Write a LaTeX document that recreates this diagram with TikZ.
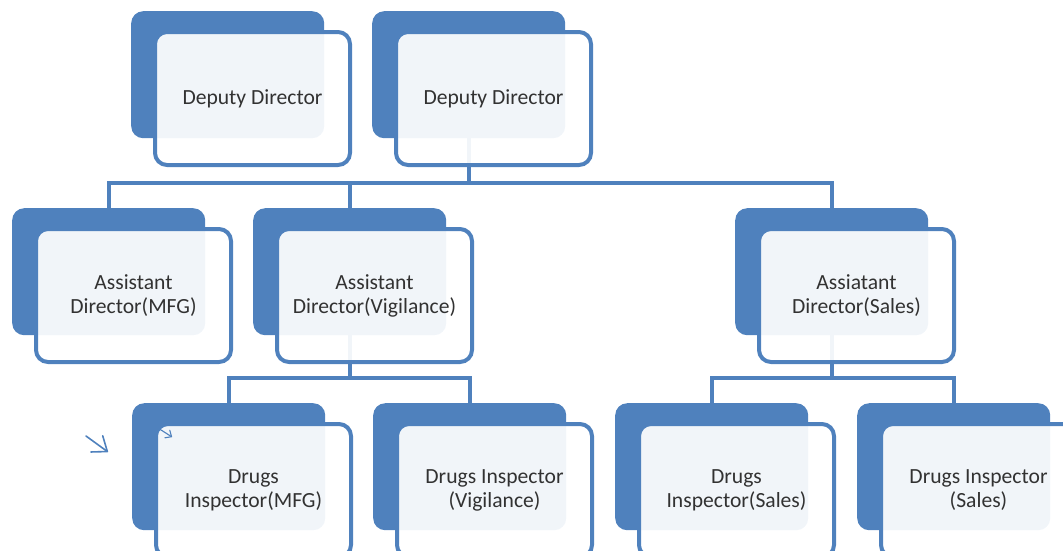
\documentclass[tikz,border=0pt]{standalone}
\usepackage{fontspec}
\setmainfont{Carlito}
\usetikzlibrary{arrows.meta, calc}
\definecolor{orgblue}{RGB}{79,129,189}
\definecolor{orgtext}{RGB}{50,50,50}
\tikzset{
	x=1pt, y=-1pt, % pixel grid, origin top left
	backbox/.style={fill=orgblue, rounded corners=12pt, inner sep=0pt,
		minimum width=193pt, minimum height=127pt, anchor=north west}, % blue card behind
	frontbox/.style={draw=orgblue, line width=4pt, fill=white, fill opacity=0.92,
		text opacity=1, rounded corners=12pt, minimum width=195pt, minimum height=133pt,
		anchor=north west, align=center, text=orgtext,
		font=\fontsize{21.6pt}{24pt}\selectfont}, % white card with the title
	link/.style={draw=orgblue, line width=4pt}, % tree connectors
	pointer/.style={draw=orgblue, line width=1.6pt, line cap=round,
		-{Straight Barb[length=13pt,width=20pt,round]}},
}
\begin{document}
\begin{tikzpicture}
	\useasboundingbox (0,0) rectangle (1063,550);
	\clip (0,0) rectangle (1063,550);
	% back cards
	\foreach \n/\x/\y in {dd1/151/28, dd2/392/28, ad1/32/225, ad2/273/225, ad3/755/225,
		di1/152/420, di2/393/420, di3/635/420, di4/877/420}
		\node[backbox] (\n back) at (\x-20,\y-17) {};
	% connectors
	\draw[link] (dd2back.south) -- ++(0,45) coordinate (busa);
	\draw[link] (ad1back.north) |- (busa) -| (ad3back.north);
	\draw[link] (ad2back.north) -- (ad2back.north |- busa);
	\draw[link] (ad2back.south) -- ++(0,43) coordinate (busb);
	\draw[link] (di1back.north) |- (busb) -| (di2back.north);
	\draw[link] (ad3back.south) -- ++(0,43) coordinate (busc);
	\draw[link] (di3back.north) |- (busc) -| (di4back.north);
	% front cards
	\foreach \n/\x/\y/\t in {dd1/151/28/{Deputy Director}, dd2/392/28/{Deputy Director},
		ad1/32/225/{Assistant\\Director(MFG)}, ad2/273/225/{Assistant\\Director(Vigilance)},
		ad3/755/225/{Assiatant\\Director(Sales)},
		di1/152/420/{Drugs\\Inspector(MFG)}, di2/393/420/{Drugs Inspector\\(Vigilance)},
		di3/635/420/{Drugs\\Inspector(Sales)}, di4/877/420/{Drugs Inspector\\(Sales)}}
		\node[frontbox] (\n) at (\x+2,\y+2) {\t};
	% stray pointer marks
	\draw[pointer] (86,436) -- (108,452);
	\draw[pointer, line width=1.1pt, -{Straight Barb[length=5pt,width=9pt,round]}] (158,428) -- (172,437);
\end{tikzpicture}
\end{document}
